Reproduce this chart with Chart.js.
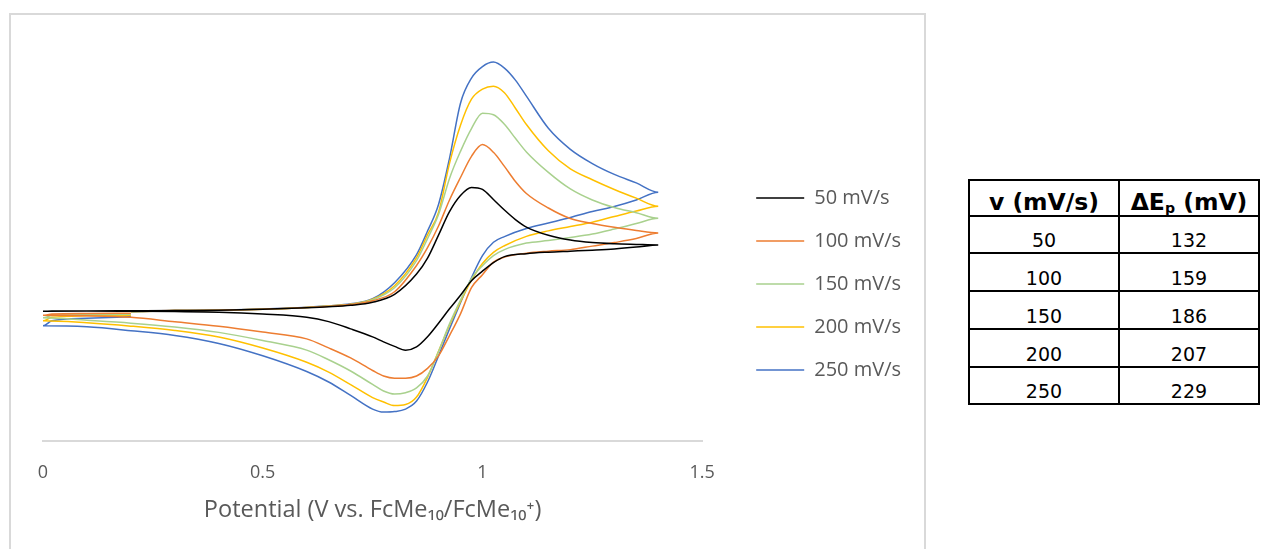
<!DOCTYPE html>
<html>
<head>
<meta charset="utf-8">
<script src="https://cdn.jsdelivr.net/npm/chart.js@4.4.1/dist/chart.umd.min.js"></script>
<style>
  html, body { margin: 0; padding: 0; background: #ffffff; width: 1262px; height: 549px; overflow: hidden; }
  #frame { position: absolute; left: 9px; top: 13px; width: 917px; height: 620px; box-sizing: border-box; border: 2px solid #D9D9D9; }
  #wrap { position: absolute; left: 0; top: 0; width: 911px; height: 549px; }
  #tbl { position: absolute; left: 968px; top: 179px; width: 292px; box-sizing: border-box;
         border-left: 2px solid #000; border-top: 2px solid #000;
         display: grid; grid-template-columns: 150px 140px; font-family: 'DejaVu Sans', sans-serif; color: #000; }
  #tbl > div { box-sizing: border-box; border-right: 2px solid #000; border-bottom: 2px solid #000;
             display: flex; align-items: flex-end; justify-content: center; line-height: 1; }
  #tbl .h { font-weight: bold; font-size: 23.5px; height: 36px; padding-bottom: 1px; }
  #tbl .c { font-size: 19px; padding-bottom: 2px; }
  #tbl span { white-space: pre; }
  #tbl sub { font-size: 0.6em; vertical-align: -0.2em; line-height: 0; }
</style>
</head>
<body>
<div id="frame"></div>
<div id="wrap"><canvas id="cv"></canvas></div>
<div id="tbl"></div>
<script>
// ---- data ----
const potentialFwd = [0.2,0.3,0.4,0.5,0.6,0.65,0.7,0.75,0.8,0.85,0.875,0.9,0.925,0.95,0.975,1.0,1.025,1.05,1.075,1.1,1.15,1.2,1.25,1.3,1.35,1.4];
const potentialRev = [1.35,1.3,1.25,1.2,1.15,1.1,1.05,1.025,1.0,0.975,0.95,0.925,0.9,0.875,0.85,0.825,0.8,0.775,0.75,0.7,0.65,0.6,0.5,0.4,0.3,0.2,0.1,0];
const potentialTail = [0.02,0.1,0.2];

const current50Fwd  = [0,0.02,0.05,0.15,0.3,0.4,0.55,0.85,1.64,3.66,5.25,7.55,9.89,11.5,12.3,12.1,11.1,10.05,9.1,8.35,7.53,7.05,6.8,6.68,6.62,6.57];
const current100Fwd = [-0.05,0.02,0.05,0.15,0.32,0.45,0.62,1.0,1.9,4.52,6.29,8.45,11.05,13.29,15.4,16.57,15.8,14.4,12.9,11.7,10.25,9.2,8.7,8.32,8.0,7.77];
const current150Fwd = [-0.08,0.02,0.05,0.15,0.33,0.47,0.64,1.1,2.3,5.0,7.2,9.6,13.2,15.9,18.17,19.7,19.55,18.6,17.2,15.84,13.8,12.15,11.05,10.3,9.78,9.23];
const current200Fwd = [-0.1,0.02,0.06,0.16,0.34,0.48,0.66,1.15,2.5,5.3,7.58,9.8,14.7,18.5,21.1,22.1,22.4,21.75,20.2,18.57,15.95,14.15,13.07,12.1,11.23,10.43];
const current250Fwd = [-0.12,0.02,0.06,0.17,0.35,0.5,0.7,1.2,2.8,5.6,7.95,10.6,15.2,20.7,23.2,24.35,24.8,24.2,23.0,21.4,18.2,16.1,14.68,13.6,12.75,11.83];

const current50Rev  = [6.35,6.17,6.05,5.95,5.85,5.7,5.4,4.8,3.95,3.0,1.55,0.2,-1.24,-2.59,-3.6,-3.93,-3.55,-3.1,-2.6,-1.8,-1.08,-0.64,-0.32,-0.14,-0.08,-0.05,-0.03,-0.05];
const current100Rev = [7.2,6.8,6.45,6.1,5.95,5.75,5.35,4.85,3.6,2.3,-0.3,-2.47,-4.5,-5.74,-6.5,-6.72,-6.72,-6.5,-5.95,-4.7,-3.7,-2.8,-2.12,-1.53,-1.09,-0.65,-0.5,-0.45];
const current150Rev = [8.7,8.15,7.65,7.3,7.0,6.75,6.1,5.5,4.5,3.2,1.07,-1.3,-4.05,-6.5,-7.69,-8.16,-8.3,-8.0,-7.34,-6.0,-4.88,-3.92,-2.96,-2.15,-1.61,-1.23,-0.95,-0.7];
const current200Rev = [9.95,9.4,8.84,8.4,7.97,7.42,6.49,5.83,4.72,3.05,0.92,-1.44,-4.04,-6.63,-8.6,-9.35,-9.45,-9.09,-8.65,-7.36,-6.11,-5.13,-3.71,-2.61,-1.96,-1.53,-1.2,-1.0];
const current250Rev = [11.05,10.4,9.9,9.3,8.75,8.2,7.4,6.83,5.5,3.3,0.8,-1.8,-4.5,-7.1,-9.0,-9.8,-10.05,-10.1,-9.8,-8.44,-7.1,-6.05,-4.48,-3.25,-2.45,-1.98,-1.6,-1.5];

const current50Tail  = [-0.03,-0.01,0];
const current100Tail = [-0.33,-0.27,-0.25];
const current150Tail = [-0.48,-0.38,-0.35];
const current200Tail = [-0.65,-0.5,-0.45];
const current250Tail = [-1.0,-0.75,-0.6];

const seriesLabels = ['50 mV/s','100 mV/s','150 mV/s','200 mV/s','250 mV/s'];
const xTicks = [0, 0.5, 1, 1.5];
const axisTitle = 'Potential (V vs. FcMe\u2081\u2080/FcMe\u2081\u2080\u207A)';

const scanRates = [50, 100, 150, 200, 250];
const peakSeparations = [132, 159, 186, 207, 229];

// ---- styles ----
const seriesColors = ['#000000', '#ED7D31', '#A9D18E', '#FFC000', '#4472C4'];

// ---- build ----
function buildLoop(fwd, rev, tail) {
  const pts = [];
  potentialFwd.forEach((x, i) => pts.push({ x: x, y: fwd[i] }));
  potentialRev.forEach((x, i) => pts.push({ x: x, y: rev[i] }));
  potentialTail.forEach((x, i) => pts.push({ x: x, y: tail[i] }));
  return pts;
}
const fwdSets = [current50Fwd, current100Fwd, current150Fwd, current200Fwd, current250Fwd];
const revSets = [current50Rev, current100Rev, current150Rev, current200Rev, current250Rev];
const tailSets = [current50Tail, current100Tail, current150Tail, current200Tail, current250Tail];

// table
const tbl = document.getElementById('tbl');
function cell(html, cls) {
  const d = document.createElement('div'); d.className = cls;
  const s = document.createElement('span'); s.innerHTML = html; d.appendChild(s);
  tbl.appendChild(d); return d;
}
cell('v (mV/s)', 'h');
cell('\u0394E<sub>p</sub> (mV)', 'h');
const rowHeights = [37, 38, 38, 38, 37];
scanRates.forEach((r, i) => {
  cell(String(r), 'c').style.height = rowHeights[i] + 'px';
  cell(String(peakSeparations[i]), 'c').style.height = rowHeights[i] + 'px';
});

function draw() {
  Chart.defaults.font.family = "'Open Sans', sans-serif";
  const datasets = seriesLabels.map((lab, k) => ({
    label: lab,
    data: buildLoop(fwdSets[k], revSets[k], tailSets[k]),
    borderColor: seriesColors[k],
    backgroundColor: seriesColors[k],
    borderWidth: 1.5,
    showLine: true,
    pointRadius: 0,
    pointHoverRadius: 0,
    tension: 0.4,
    cubicInterpolationMode: 'monotone',
    fill: false
  }));
  new Chart(document.getElementById('cv'), {
    type: 'scatter',
    data: { datasets: datasets },
    options: {
      responsive: true,
      maintainAspectRatio: false,
      animation: false,
      devicePixelRatio: 1,
      events: [],
      layout: { padding: { top: 40, left: 43, right: 0, bottom: 21 } },
      plugins: {
        legend: {
          position: 'right',
          align: 'center',
          labels: {
            usePointStyle: true,
            pointStyle: 'line',
            pointStyleWidth: 48,
            boxWidth: 48,
            padding: 23,
            color: '#595959',
            font: { family: "'Open Sans', sans-serif", size: 20 }
          }
        },
        tooltip: { enabled: false }
      },
      scales: {
        x: {
          type: 'linear',
          min: 0,
          max: 1.5,
          afterBuildTicks: (s) => { s.ticks = xTicks.map(v => ({ value: v })); },
          ticks: { padding: 12.5, color: '#595959', font: { size: 18 }, callback: (v) => String(v) },
          grid: { display: false },
          border: { display: true, color: '#D9D9D9', width: 2 },
          title: { display: true, text: axisTitle, color: '#595959', font: { size: 23.5 }, padding: { top: 0, bottom: 4 } }
        },
        y: {
          type: 'linear',
          position: 'right',
          min: -13,
          max: 27,
          ticks: { display: false },
          grid: { display: false },
          border: { display: false },
          afterFit: (s) => { s.width = 31; }
        }
      }
    }
  });
}
if (document.fonts && document.fonts.load) {
  Promise.all([document.fonts.load('20px "Open Sans"'), document.fonts.load('19px "DejaVu Sans"')]).then(draw, draw);
} else { draw(); }
</script>
</body>
</html>
